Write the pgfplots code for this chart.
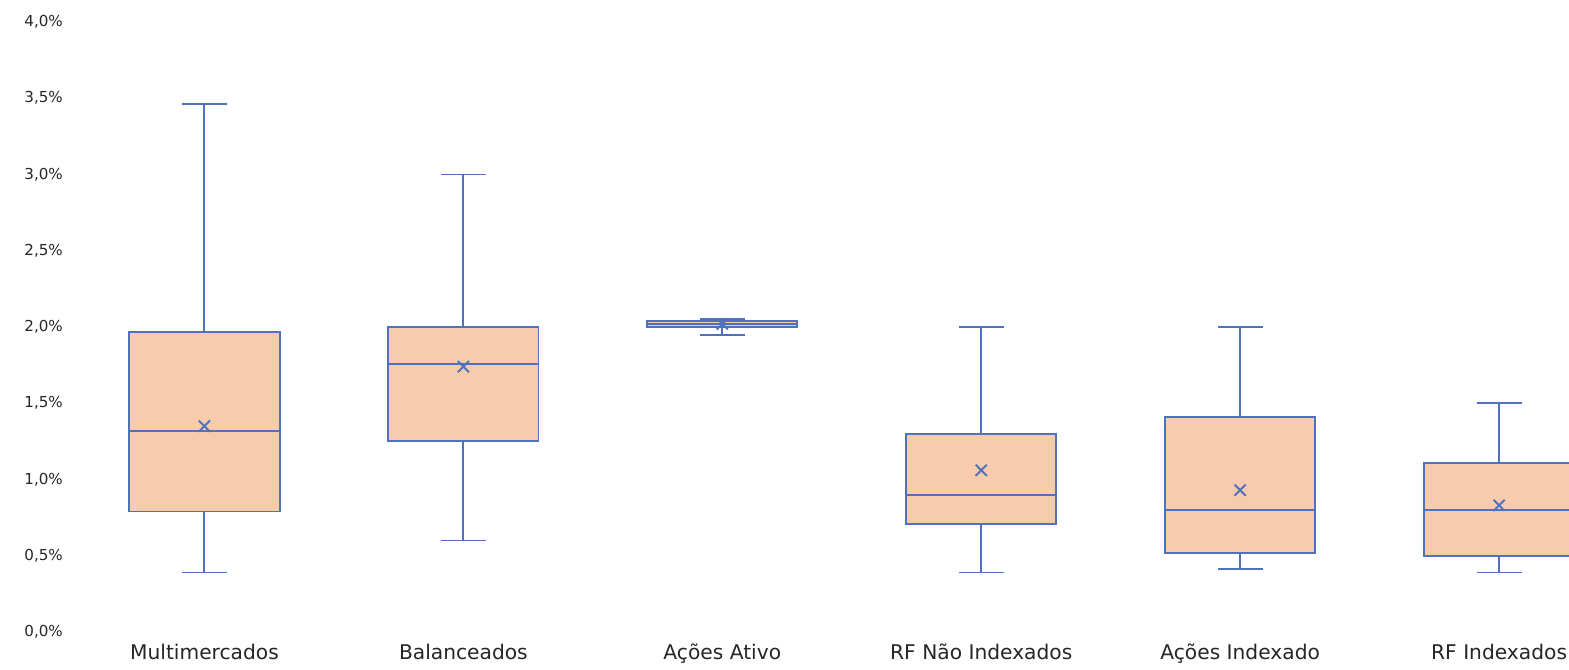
\documentclass[border=0pt]{standalone}
\usepackage{pgfplots}
\pgfplotsset{compat=1.18}
\usepgfplotslibrary{statistics}
\usepackage{fontspec}
\setmainfont{DejaVu Sans}
\definecolor{boxfill}{HTML}{F8CBAD}
\definecolor{boxedge}{HTML}{4F72BE}
\definecolor{labgray}{HTML}{262626}

\begin{document}
\begin{tikzpicture}
\begin{axis}[
  name=ax,
  scale only axis,
  width=298.8mm, height=122mm,
  xmin=-0.5, xmax=5.27,
  ymin=0, ymax=4,
  ytick={0,0.5,...,4},
  yticklabel={\pgfmathprintnumber[fixed,fixed zerofill,precision=1,use comma]{\tick}\%},
  /pgf/number format/assume math mode=true,
  yticklabel style={font=\fontsize{8.6}{10}\selectfont, text=labgray, xshift=-1.2mm},
  xtick={0,1,2,3,4,5},
  xticklabels={Multimercados, Balanceados, Ações Ativo, RF Não Indexados, Ações Indexado, RF Indexados},
  xticklabel style={font=\fontsize{11.5}{13}\selectfont, text=labgray, yshift=-1.2mm},
  major tick length=0pt,
  axis line style={draw=none},
  every axis plot/.append style={color=boxedge, line width=1.1pt},
  boxplot/draw direction=y,
  boxplot/box extend=0.58,
  boxplot/whisker extend=0.174,
  boxplot/every box/.style={draw=boxedge, fill=boxfill, line width=1.1pt},
  boxplot/every whisker/.style={draw=boxedge, line width=1.1pt},
  boxplot/every median/.style={draw=boxedge, line width=1.1pt},
  boxplot/every average/.style={/tikz/mark=x, /tikz/mark size=4.5pt, /tikz/color=boxedge, /tikz/line width=1.1pt},
]
% Multimercados
\addplot[boxplot prepared={draw position=0, lower whisker=0.39, lower quartile=0.79,
  median=1.32, upper quartile=1.97, upper whisker=3.46, average=1.35}] coordinates {};
% Balanceados
\addplot[boxplot prepared={draw position=1, lower whisker=0.60, lower quartile=1.25,
  median=1.76, upper quartile=2.00, upper whisker=3.00, average=1.74}] coordinates {};
% Acoes Ativo
\addplot[boxplot prepared={draw position=2, lower whisker=1.95, lower quartile=2.00,
  median=2.02, upper quartile=2.04, upper whisker=2.05, average=2.02}] coordinates {};
% RF Nao Indexados
\addplot[boxplot prepared={draw position=3, lower whisker=0.39, lower quartile=0.71,
  median=0.90, upper quartile=1.30, upper whisker=2.00, average=1.06}] coordinates {};
% Acoes Indexado
\addplot[boxplot prepared={draw position=4, lower whisker=0.41, lower quartile=0.52,
  median=0.80, upper quartile=1.41, upper whisker=2.00, average=0.93}] coordinates {};
% RF Indexados
\addplot[boxplot prepared={draw position=5, lower whisker=0.39, lower quartile=0.50,
  median=0.80, upper quartile=1.11, upper whisker=1.50, average=0.83}] coordinates {};
\coordinate (bl) at (rel axis cs:0,0);
\coordinate (tr) at (rel axis cs:1,1);
\end{axis}
\pgfresetboundingbox
\path[use as bounding box] ([xshift=-15mm,yshift=-7.6mm]bl) rectangle ([yshift=4.4mm]tr);
\end{tikzpicture}
\end{document}
